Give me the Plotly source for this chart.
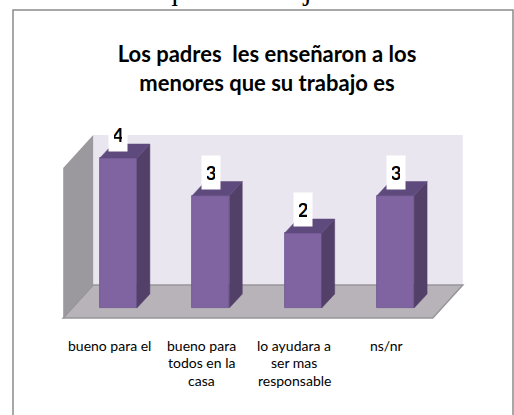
import plotly.graph_objects as go

# ---------------- data ----------------
categories = ["bueno para el",
              "bueno para<br>todos en la<br>casa",
              "lo ayudara a<br>ser mas<br>responsable",
              "ns/nr"]
values = [4, 3, 2, 3]
axis_max = 4
title_text = "Los padres&nbsp; les enseñaron a los<br>menores que su trabajo es"
page_text = "menores que su trabajo es"

# ---------------- layout geometry ----------------
W, H = 514, 415
ML, MR, MT, MB = 13, 1, 10, 95
PW, PH = W - ML - MR, H - MT - MB
XR = [-1.1407, 4.2706]
YR = [-0.32, 7.9467]
PXX = PW / (XR[1] - XR[0])
PXY = PH / (YR[1] - YR[0])


def off(dx_px, dy_px):
    """pixel offset (dy positive downward) -> data offset"""
    return dx_px / PXX, -dy_px / PXY


BAR_W = 0.4
BD = off(13, -14)        # bar depth
FF = off(-9, 10)         # floor front plane
FB = off(21, -23)        # back wall plane

BAR_FRONT = "#8064A2"
BAR_SIDE = "#524069"
BAR_TOP = "#5E4A7C"
BACK_WALL = "#EAE6EF"
SIDE_WALL = "#9B999D"
FLOOR = "#B7B3B9"

FONT = "Lato, sans-serif"

n = len(values)
xs = list(range(n))
xl, xr_ = -0.5, n - 0.5

fig = go.Figure()

# front faces
fig.add_trace(go.Bar(
    x=xs, y=values, base=0, width=BAR_W,
    marker=dict(color=BAR_FRONT, line=dict(color="#6C5490", width=0.8)),
    hoverinfo="skip", showlegend=False))

# side and top faces
for i, v in zip(xs, values):
    r = i + BAR_W / 2
    l = i - BAR_W / 2
    fig.add_trace(go.Scatter(
        x=[r, r + BD[0], r + BD[0], r, r],
        y=[0, BD[1], v + BD[1], v, 0],
        mode="lines", fill="toself", fillcolor=BAR_SIDE,
        line=dict(color=BAR_SIDE, width=0.5),
        hoverinfo="skip", showlegend=False))
    fig.add_trace(go.Scatter(
        x=[l, r, r + BD[0], l + BD[0], l],
        y=[v, v, v + BD[1], v + BD[1], v],
        mode="lines", fill="toself", fillcolor=BAR_TOP,
        line=dict(color=BAR_TOP, width=0.5),
        hoverinfo="skip", showlegend=False))


def path(pts):
    return "M " + " L ".join(f"{x:.4f},{y:.4f}" for x, y in pts) + " Z"


shapes = []
# back wall
shapes.append(dict(type="path", xref="x", yref="y", layer="below",
                   path=path([(xl + FB[0], FB[1]), (xr_ + FB[0], FB[1]),
                              (xr_ + FB[0], axis_max + FB[1]), (xl + FB[0], axis_max + FB[1])]),
                   fillcolor=BACK_WALL, line=dict(width=0)))
# left wall
shapes.append(dict(type="path", xref="x", yref="y", layer="below",
                   path=path([(xl + FF[0], FF[1]), (xl + FF[0], axis_max + FF[1]),
                              (xl + FB[0], axis_max + FB[1]), (xl + FB[0], FB[1])]),
                   fillcolor=SIDE_WALL, line=dict(width=0)))
# floor
shapes.append(dict(type="path", xref="x", yref="y", layer="below",
                   path=path([(xl + FF[0], FF[1]), (xr_ + FF[0], FF[1]),
                              (xr_ + FB[0], FB[1]), (xl + FB[0], FB[1])]),
                   fillcolor=FLOOR, line=dict(color="#98959A", width=1.5)))
# chart border
shapes.append(dict(type="rect", xref="paper", yref="paper",
                   x0=0, x1=1, y0=-0.36, y1=1,
                   line=dict(color="#8A8A8A", width=1.5), fillcolor="rgba(0,0,0,0)"))

annotations = []
# value labels
for i, v in zip(xs, values):
    annotations.append(dict(x=i, y=v, xref="x", yref="y", text=str(v),
                            showarrow=False, yanchor="bottom", xanchor="center",
                            yshift=6, bgcolor="white", width=8, height=23, borderpad=5,
                            font=dict(family=FONT, size=19, color="black", weight="bold")))

# category labels, one annotation per line
LINE0_PY, LINE_STEP = 345, 17.5
for i, c in enumerate(categories):
    for k, line in enumerate(c.split("<br>")):
        py = LINE0_PY + k * LINE_STEP
        annotations.append(dict(x=i + FF[0], y=(MT + PH - py) / PH, xref="x", yref="paper",
                                text=line, showarrow=False, xanchor="center", yanchor="middle",
                                font=dict(family=FONT, size=14, color="black")))

# fragment of page text above the chart
annotations.append(dict(x=(208 - ML) / PW, y=(MT + PH - 8) / PH, xref="paper", yref="paper",
                        text=page_text, showarrow=False, xanchor="center", yanchor="bottom",
                        font=dict(family="Liberation Serif, Times New Roman, serif", size=29,
                                  color="black")))

fig.update_layout(
    width=W, height=H,
    margin=dict(l=ML, r=MR, t=MT, b=MB),
    paper_bgcolor="white", plot_bgcolor="white",
    title=dict(text=title_text, x=267 / W, xanchor="center", y=1 - 62 / H, yanchor="top",
               font=dict(family=FONT, size=22, color="black", weight="bold")),
    xaxis=dict(range=XR, visible=False, fixedrange=True),
    yaxis=dict(range=YR, visible=False, fixedrange=True),
    shapes=shapes, annotations=annotations,
    showlegend=False, bargap=0,
)

fig.write_html("out.html", config={"displayModeBar": False},
               post_script="document.body.style.margin='0';")
